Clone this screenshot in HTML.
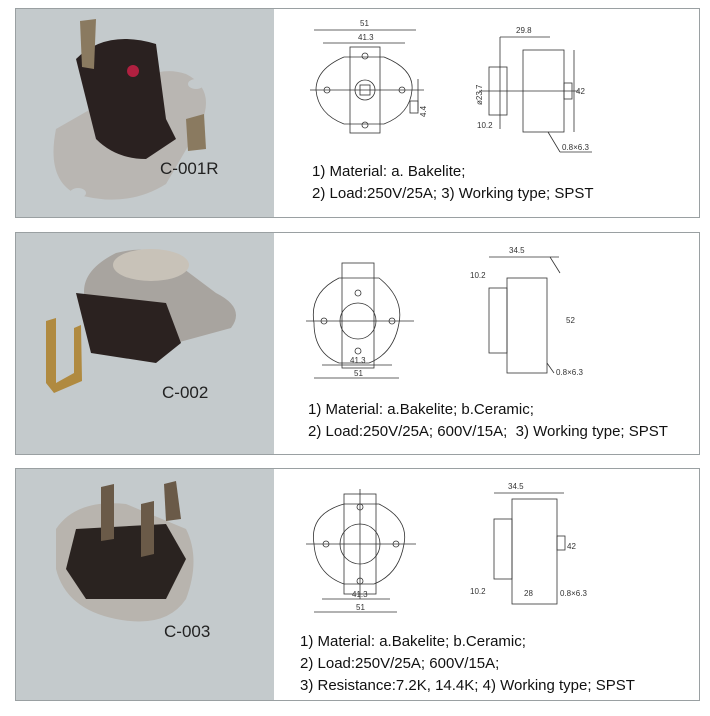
<!DOCTYPE html>
<html><head><meta charset="utf-8"><style>
body{margin:0;width:710px;height:716px;background:#fff;position:relative;overflow:hidden;font-family:"Liberation Sans",sans-serif}
.p{position:absolute;left:15px;width:683px;border:1px solid #9aa0a2;background:#fff}
.g{position:absolute;left:0;top:0;bottom:0;width:258px;background:#c4cacc}
.lab{position:absolute;font-size:17px;color:#222}
.t{position:absolute;font-size:15px;color:#111;line-height:22px;white-space:nowrap}
svg{position:absolute}
</style></head><body>

<div class="p" style="top:8px;height:208px">
 <div class="g">
  <svg width="258" height="208">
   <path d="M40 120 Q30 170 60 185 Q110 200 150 175 L185 115 Q200 80 170 65 Q140 55 110 80 Z" fill="#b9b6b2"/>
   <ellipse cx="180" cy="75" rx="8" ry="5" fill="#c4cacc"/><ellipse cx="62" cy="184" rx="8" ry="5" fill="#c4cacc"/>
   <path d="M60 50 Q90 20 140 35 L150 110 L160 130 L130 150 Q100 150 80 130 Z" fill="#2a2120"/>
   <path d="M64 12 L80 10 L78 60 L66 58 Z" fill="#8a7a60"/>
   <path d="M170 110 L188 105 L190 140 L172 142 Z" fill="#8a7a60"/>
   <circle cx="117" cy="62" r="6" fill="#b02040"/>
  </svg>
  <div class="lab" style="left:144px;top:150px">C-001R</div>
 </div>
 <svg style="left:258px;top:0" width="425" height="208" stroke="#333" fill="none" stroke-width="0.8" font-size="8" font-family="Liberation Sans">
  <text x="86" y="17" stroke="none" fill="#333">51</text><line x1="40" y1="21" x2="142" y2="21"/>
  <text x="84" y="31" stroke="none" fill="#333">41.3</text><line x1="49" y1="34" x2="131" y2="34"/>
  <path d="M42 81 Q42 60 70 48 L110 48 Q140 60 138 81 Q136 105 110 115 L70 115 Q44 105 42 81 Z"/>
  <rect x="76" y="38" width="30" height="86"/><circle cx="91" cy="81" r="10"/><rect x="86" y="76" width="10" height="10"/>
  <circle cx="91" cy="47" r="3"/><circle cx="91" cy="116" r="3"/><circle cx="53" cy="81" r="3"/><circle cx="128" cy="81" r="3"/>
  <line x1="36" y1="81" x2="150" y2="81"/><line x1="144" y1="70" x2="144" y2="102"/><rect x="136" y="92" width="8" height="12"/>
  <text x="148" y="104" stroke="none" fill="#333" transform="rotate(-90 152 104)">4.4</text>
  <text x="242" y="24" stroke="none" fill="#333">29.8</text><line x1="226" y1="28" x2="276" y2="28"/>
  <rect x="215" y="58" width="18" height="48"/><rect x="249" y="41" width="41" height="82"/><rect x="290" y="74" width="8" height="16"/>
  <line x1="226" y1="28" x2="226" y2="120"/><line x1="300" y1="41" x2="300" y2="123"/>
  <line x1="205" y1="82" x2="305" y2="82"/>
  <text x="203" y="119" stroke="none" fill="#333">10.2</text><text x="302" y="85" stroke="none" fill="#333">42</text>
  <text x="202" y="90" stroke="none" fill="#333" transform="rotate(-90 208 90)">ø23.7</text>
  <line x1="274" y1="123" x2="286" y2="143"/><line x1="286" y1="143" x2="318" y2="143"/><text x="288" y="141" stroke="none" fill="#333">0.8×6.3</text>
 </svg>
 <div class="t" style="left:296px;top:152px">1) Material: a. Bakelite;<br>2) Load:250V/25A; 3) Working type; SPST</div>
</div>

<div class="p" style="top:232px;height:221px">
 <div class="g">
  <svg width="258" height="221">
   <path d="M70 70 Q60 40 100 20 Q140 10 160 30 L200 60 Q230 75 215 95 L160 110 L100 120 Z" fill="#a8a49f"/>
   <ellipse cx="135" cy="32" rx="38" ry="16" fill="#c8c2b8"/>
   <path d="M60 60 L150 70 L165 110 L140 130 L75 120 Z" fill="#2b2220"/>
   <path d="M30 88 L40 85 L40 150 L58 140 L58 95 L65 92 L66 148 L38 160 L30 150 Z" fill="#b08a40"/>
  </svg>
  <div class="lab" style="left:146px;top:150px">C-002</div>
 </div>
 <svg style="left:258px;top:0" width="425" height="221" stroke="#333" fill="none" stroke-width="0.8" font-size="8" font-family="Liberation Sans">
  <path d="M40 90 Q35 60 65 45 L105 45 Q130 65 125 90 Q120 120 95 130 L65 130 Q40 120 40 90 Z"/>
  <rect x="68" y="30" width="32" height="105"/><circle cx="84" cy="88" r="18"/>
  <circle cx="84" cy="60" r="3"/><circle cx="84" cy="118" r="3"/><circle cx="50" cy="88" r="3"/><circle cx="118" cy="88" r="3"/>
  <line x1="32" y1="88" x2="140" y2="88"/><line x1="40" y1="145" x2="125" y2="145"/><line x1="48" y1="132" x2="118" y2="132"/>
  <text x="76" y="130" stroke="none" fill="#333">41.3</text><text x="80" y="143" stroke="none" fill="#333">51</text>
  <text x="235" y="20" stroke="none" fill="#333">34.5</text><line x1="215" y1="24" x2="285" y2="24"/>
  <rect x="215" y="55" width="18" height="65"/><rect x="233" y="45" width="40" height="95"/><line x1="276" y1="24" x2="286" y2="40"/>
  <text x="196" y="45" stroke="none" fill="#333">10.2</text><text x="292" y="90" stroke="none" fill="#333">52</text>
  <line x1="273" y1="130" x2="280" y2="140"/><text x="282" y="142" stroke="none" fill="#333">0.8×6.3</text>
 </svg>
 <div class="t" style="left:292px;top:166px">1) Material: a.Bakelite; b.Ceramic;<br>2) Load:250V/25A; 600V/15A;&nbsp; 3) Working type; SPST</div>
</div>

<div class="p" style="top:468px;height:231px">
 <div class="g">
  <svg width="258" height="231">
   <path d="M40 60 Q60 30 110 35 L170 60 Q185 90 170 130 Q150 160 100 150 Q50 140 40 100 Z" fill="#b8b4ae"/>
   <path d="M60 60 L150 55 L170 90 L150 130 L70 130 L50 100 Z" fill="#2a2320"/>
   <path d="M85 18 L98 15 L98 70 L85 72 Z" fill="#6a5a48"/><path d="M125 35 L138 32 L138 85 L125 88 Z" fill="#6a5a48"/>
   <path d="M148 15 L160 12 L165 50 L150 52 Z" fill="#6a5a48"/>
  </svg>
  <div class="lab" style="left:148px;top:153px">C-003</div>
 </div>
 <svg style="left:258px;top:0" width="425" height="231" stroke="#333" fill="none" stroke-width="0.8" font-size="8" font-family="Liberation Sans">
  <path d="M40 75 Q35 45 70 35 L105 35 Q135 50 130 75 Q125 105 100 115 L70 115 Q42 105 40 75 Z"/>
  <rect x="70" y="25" width="32" height="100"/><circle cx="86" cy="75" r="20"/>
  <circle cx="86" cy="38" r="3"/><circle cx="86" cy="112" r="3"/><circle cx="52" cy="75" r="3"/><circle cx="122" cy="75" r="3"/>
  <line x1="32" y1="75" x2="142" y2="75"/><line x1="86" y1="20" x2="86" y2="130"/>
  <line x1="40" y1="143" x2="123" y2="143"/><line x1="48" y1="130" x2="116" y2="130"/>
  <text x="78" y="128" stroke="none" fill="#333">41.3</text><text x="82" y="141" stroke="none" fill="#333">51</text>
  <text x="234" y="20" stroke="none" fill="#333">34.5</text><line x1="220" y1="24" x2="290" y2="24"/>
  <rect x="220" y="50" width="18" height="60"/><rect x="238" y="30" width="45" height="105"/><rect x="283" y="67" width="8" height="14"/>
  <text x="196" y="125" stroke="none" fill="#333">10.2</text><text x="250" y="127" stroke="none" fill="#333">28</text>
  <text x="293" y="80" stroke="none" fill="#333">42</text><text x="286" y="127" stroke="none" fill="#333">0.8×6.3</text>
 </svg>
 <div class="t" style="left:284px;top:162px">1) Material: a.Bakelite; b.Ceramic;<br>2) Load:250V/25A; 600V/15A;<br>3) Resistance:7.2K, 14.4K; 4) Working type; SPST</div>
</div>

</body></html>
